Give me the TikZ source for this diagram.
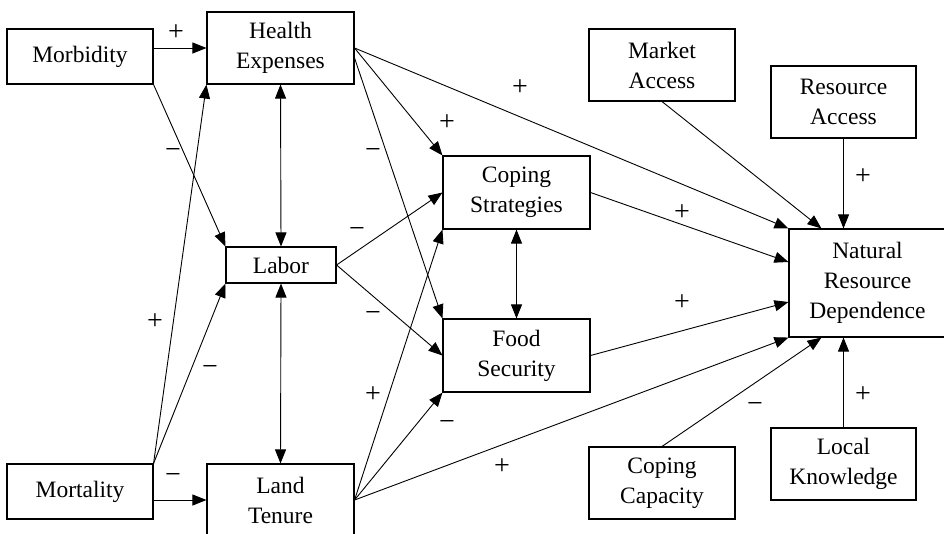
\documentclass[tikz,border=0pt]{standalone}
\usepackage{fontspec}
\setmainfont{Liberation Serif}
\usetikzlibrary{arrows.meta}
\tikzset{
  box/.style={draw, line width=1.1pt, align=center, inner sep=0pt, font=\fontsize{23.5}{30}\selectfont},
  link/.style={line width=0.9pt, -{Triangle[length=14pt,width=11pt]}},
  blink/.style={line width=0.9pt, {Triangle[length=14pt,width=11pt]}-{Triangle[length=14pt,width=11pt]}},
  sign/.style={inner sep=0pt, font=\fontsize{28}{28}\selectfont}
}
\begin{document}
\begin{tikzpicture}[x=1pt,y=-1pt]
\useasboundingbox (0,0) rectangle (944,533);
% boxes
\node[box, minimum width=146, minimum height=55] (morb) at (80,56.5) {Morbidity};
\node[box, minimum width=147, minimum height=72] (health) at (280.5,48) {Health\\Expenses};
\node[box, minimum width=110, minimum height=36] (labor) at (281,265) {Labor};
\node[box, minimum width=146, minimum height=55] (mort) at (80,491.5) {Mortality};
\node[box, minimum width=147, minimum height=72] (land) at (280.5,500) {Land\\Tenure};
\node[box, minimum width=147, minimum height=73] (coping) at (516.5,192.5) {Coping\\Strategies};
\node[box, minimum width=147, minimum height=73] (food) at (516.5,355.5) {Food\\Security};
\node[box, minimum width=146, minimum height=72] (market) at (662,65) {Market\\Access};
\node[box, minimum width=145, minimum height=72] (resacc) at (843.5,102) {Resource\\Access};
\node[box, minimum width=157, minimum height=108] (nrd) at (867.5,283) {Natural\\Resource\\Dependence};
\node[box, minimum width=146, minimum height=72] (copcap) at (662,483) {Coping\\Capacity};
\node[box, minimum width=145, minimum height=72] (local) at (843.5,464) {Local\\Knowledge};
% connectors
\draw[link] (morb.east |- health.west) -- (health.west);
\draw[link] (morb.south east) -- (labor.north west);
\draw[link] (mort.north east) -- (health.south west);
\draw[link] (mort.north east) -- (labor.south west);
\draw[link] (mort.east |- land.west) -- (land.west);
\draw[blink] (health.south) -- (labor.north);
\draw[blink] (labor.south) -- (land.north);
\draw[blink] (coping.south) -- (food.north);
\draw[link] (health.east) -- (coping.north west);
\draw[link] ([yshift=-10pt]health.east) -- (food.north west);
\draw[link] (health.east) -- (nrd.north west);
\draw[link] (labor.east) -- (coping.west);
\draw[link] (labor.east) -- (food.west);
\draw[link] (land.east) -- (coping.south west);
\draw[link] (land.east) -- (food.south west);
\draw[link] (land.east) -- (nrd.south west);
\draw[link] (coping.east) -- ([yshift=21pt]nrd.west);
\draw[link] (food.east) -- ([yshift=-19pt]nrd.west);
\draw[link] (market.south) -- ([xshift=33pt]nrd.north west);
\draw[link] (resacc.south) -- (resacc.south |- nrd.north);
\draw[link] (copcap.north) -- ([xshift=33pt]nrd.south west);
\draw[link] (local.north) -- (local.north |- nrd.south);
% signs
\node[sign] (s1) at (176,33) {+};
\node[sign] (s2) at (173,153) {−};
\node[sign] (s3) at (155,322) {+};
\node[sign] (s4) at (210,370) {−};
\node[sign] (s5) at (173,478) {−};
\node[sign] (s6) at (447,123) {+};
\node[sign] (s7) at (373,153) {−};
\node[sign] (s8) at (520,88) {+};
\node[sign] (s9) at (357,232) {−};
\node[sign] (s10) at (373,316) {−};
\node[sign] (s11) at (373,395) {+};
\node[sign] (s12) at (447,425) {−};
\node[sign] (s13) at (502,467) {+};
\node[sign] (s14) at (682,213) {+};
\node[sign] (s15) at (682,303) {+};
\node[sign] (s16) at (863,177) {+};
\node[sign] (s17) at (755,407) {−};
\node[sign] (s18) at (863,395) {+};
\end{tikzpicture}
\end{document}
